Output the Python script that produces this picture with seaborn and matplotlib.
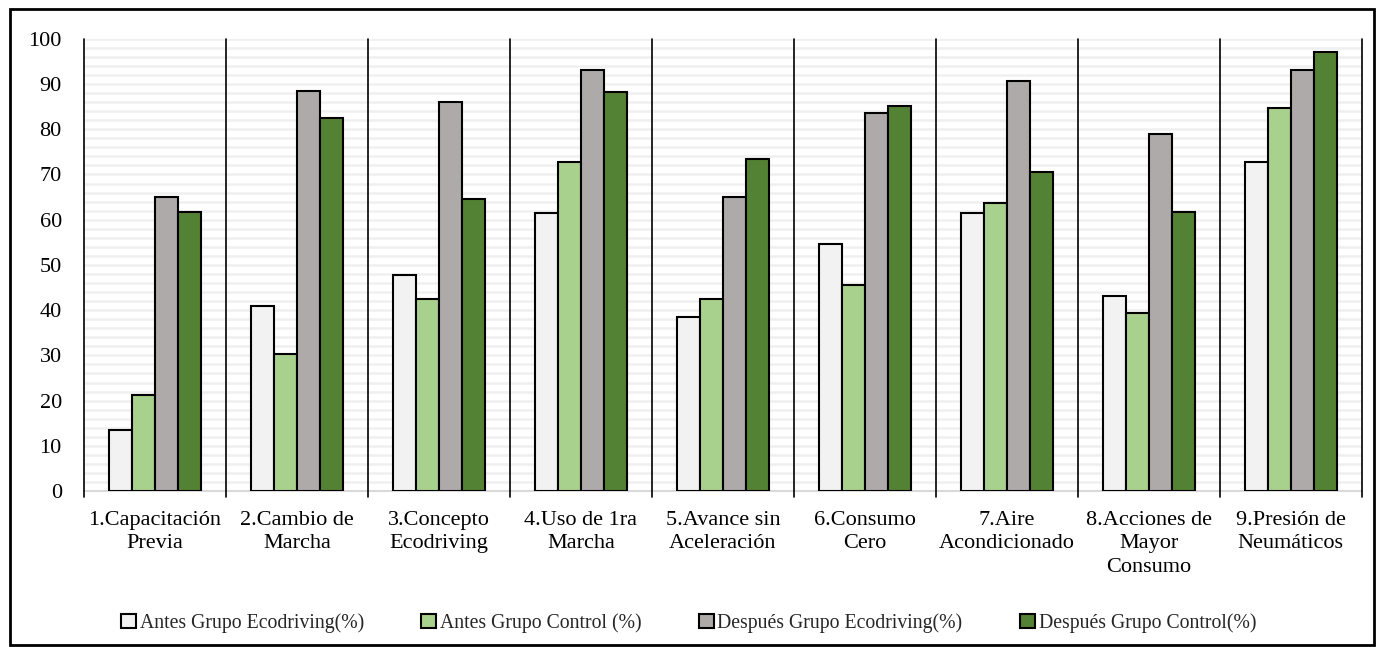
import seaborn as sns
import matplotlib.pyplot as plt
import matplotlib.patches as mpatches
import pandas as pd
import numpy as np

categorias = ["1.Capacitación\nPrevia", "2.Cambio de\nMarcha", "3.Concepto\nEcodriving",
              "4.Uso de 1ra\nMarcha", "5.Avance sin\nAceleración", "6.Consumo\nCero",
              "7.Aire\nAcondicionado", "8.Acciones de\nMayor\nConsumo", "9.Presión de\nNeumáticos"]
grupos = ["Antes Grupo Ecodriving(%)", "Antes Grupo Control (%)",
          "Después Grupo Ecodriving(%)", "Después Grupo Control(%)"]

antes_eco = [13.6, 40.9, 47.8, 61.4, 38.6, 54.6, 61.4, 43.2, 72.7]
antes_ctrl = [21.2, 30.2, 42.4, 72.7, 42.4, 45.5, 63.6, 39.4, 84.8]
despues_eco = [65.0, 88.4, 86.1, 93.0, 65.0, 83.7, 90.7, 79.0, 93.0]
despues_ctrl = [61.7, 82.4, 64.6, 88.3, 73.5, 85.2, 70.6, 61.7, 97.0]

colores = ["#f2f2f2", "#a9d18e", "#aeaaaa", "#548235"]

# tabla larga para seaborn
filas = []
for g, vals in zip(grupos, [antes_eco, antes_ctrl, despues_eco, despues_ctrl]):
    for c, v in zip(categorias, vals):
        filas.append({"categoria": c, "grupo": g, "valor": v})
df = pd.DataFrame(filas)

sns.set_theme(style="white")
plt.rcParams["font.family"] = ["Liberation Serif", "DejaVu Serif"]

fig = plt.figure(figsize=(13.77, 6.47), dpi=100)
ax = fig.add_axes([0.061, 0.241, 0.928, 0.699])

sns.barplot(data=df, x="categoria", y="valor", hue="grupo", order=categorias,
            hue_order=grupos, palette=colores, edgecolor="black", linewidth=1.5,
            width=0.65, saturation=1, ax=ax, zorder=3)

ax.set_ylim(0, 100)
ax.set_xlim(-0.5, len(categorias) - 0.5)
ax.set_yticks(np.arange(0, 101, 10))
ax.set_yticks(np.arange(0, 101, 2), minor=True)
ax.grid(axis="y", which="both", color="#f0f0f0", linewidth=1.8, zorder=0)
ax.set_axisbelow(True)

# separadores verticales entre categorías
for xb in np.arange(-0.5, len(categorias), 1.0):
    ax.plot([xb, xb], [-1.2, 100], color="black", linewidth=1.2, clip_on=False, zorder=4)

for s in ["top", "right", "left"]:
    ax.spines[s].set_visible(False)
ax.spines["bottom"].set_color("#d9d9d9")
ax.spines["bottom"].set_linewidth(1.5)

ax.tick_params(axis="both", which="both", length=0, labelsize=16, colors="black")
ax.tick_params(axis="y", pad=16)
ax.tick_params(axis="x", pad=14)
for lbl in ax.get_xticklabels():
    lbl.set_linespacing(1.35)
ax.set_xlabel("")
ax.set_ylabel("")

handles = [mpatches.Patch(facecolor=c, edgecolor="black", linewidth=1.5) for c in colores]
ax.get_legend().remove()
fig.legend(handles, grupos, loc="center", bbox_to_anchor=(0.5, 0.037), ncol=4,
           frameon=False, fontsize=14.2, handlelength=0.75, handleheight=0.75,
           handletextpad=0.2, columnspacing=2.9)

# marco de la figura
fig.patches.append(mpatches.Rectangle((0.007, 0.003), 0.991, 0.983, transform=fig.transFigure,
                                      fill=False, edgecolor="black", linewidth=2))

fig.savefig("out.png", dpi=100)
